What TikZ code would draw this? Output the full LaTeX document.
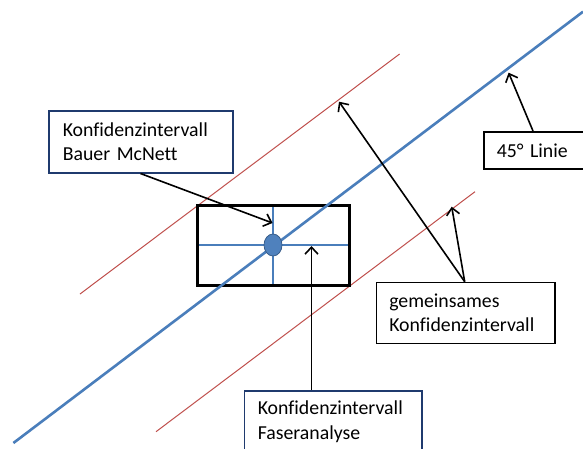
\documentclass[tikz,border=0pt]{standalone}
\usepackage{fontspec}
\setmainfont[Ligatures=NoCommon]{Carlito}
\usetikzlibrary{arrows.meta,calc,shapes.geometric}
\definecolor{lineblue}{HTML}{4A7EBB}
\definecolor{linered}{HTML}{C0504D}
\definecolor{navy}{HTML}{1F3A6E}
\definecolor{dotfill}{HTML}{4F81BD}
\definecolor{dotedge}{HTML}{385D8A}
\begin{document}
\begin{tikzpicture}[x=1pt,y=-1pt,
  box/.style={draw, line width=1.5pt, rectangle, anchor=north west, inner ysep=0pt,
    align=left, font=\fontsize{19.8}{24.5}\selectfont},
  arr/.style={-{Straight Barb[length=7pt,width=13pt]}, line width=1.6pt, black},
  redline/.style={draw=linered, line width=1pt},
  blueline/.style={draw=lineblue, line width=2.6pt},
  crossline/.style={draw=lineblue, line width=1.3pt}]
\useasboundingbox (0,0) rectangle (583,448);
\fill[white] (0,0) rectangle (583,448);
% lines
\draw[redline] (80,294) -- (399.6,54);
\draw[redline] (156,431.7) -- (475,191.7);
% rectangle with cross
\draw[crossline] (273,205) -- (273,285);
\draw[crossline] (197,245) -- (349,245);
\draw[black, line width=3pt] (197,205) rectangle (349,285);
\draw[blueline] (13.4,443) -- (583,11.7);
\node (dot) [ellipse, draw=dotedge, fill=dotfill, line width=0.8pt, minimum width=18pt, minimum height=22pt, inner sep=0pt] at (273,245) {};
% boxes
\node (bauer) [box, draw=navy, inner xsep=14pt, text width=156pt, minimum height=62pt] at (48,110)
  {Konfidenzintervall\\Bauer McNett};
\node (linie) [box, inner xsep=13pt, text width=94pt, minimum height=37pt] at (483,131)
  {45° Linie};
\node (gem) [box, inner xsep=13pt, text width=152.5pt, minimum height=61pt] at (375.5,281.7)
  {gemeinsames\\Konfidenzintervall};
\node (faser) [box, draw=navy, inner xsep=13.5pt, text width=150.5pt, minimum height=62pt] at (243.5,390)
  {Konfidenzintervall\\Faseranalyse};
% arrow tips
\coordinate (tipBauer) at (272.5,223);
\coordinate (tipLinie) at (508.6,72.7);
\coordinate (tipGemA) at (339,101.7);
\coordinate (tipGemB) at (451.7,206.7);
\coordinate (tipFaser) at (311.5,246);
% connectors
\draw[arr] ($(bauer.south west)+(92.5,0)$) -- (tipBauer);
\draw[arr] ($(linie.north west)+(50,0)$) -- (tipLinie);
\draw[arr] ($(gem.north west)+(89.2,0)$) -- (tipGemA);
\draw[arr] ($(gem.north west)+(89.2,0)$) -- (tipGemB);
\draw[arr] ($(faser.north west)+(68,0)$) -- (tipFaser);
\end{tikzpicture}
\end{document}
